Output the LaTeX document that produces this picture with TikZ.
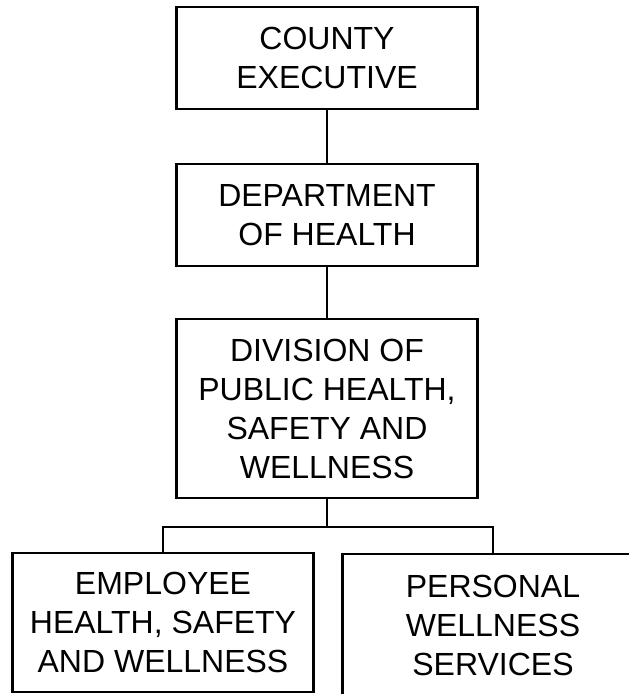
\documentclass[tikz,border=0pt]{standalone}
\usepackage{fontspec}
\setmainfont{Liberation Sans}
\tikzset{
  unit/.style={draw, line width=2.7pt, align=center, inner sep=0pt,
    minimum width=301pt, font=\fontsize{32}{39}\selectfont},
  link/.style={line width=2.7pt},
}

\begin{document}
\begin{tikzpicture}[x=1pt, y=-1pt]
\useasboundingbox (0,0) rectangle (629,694);
% boxes
\node[unit, minimum height=102pt] (exec) at (327,58) {COUNTY\\EXECUTIVE};
\node[unit, minimum height=102pt] (health) at (327,215) {DEPARTMENT\\OF HEALTH};
\node[unit, minimum height=179pt] (division) at (327,408.5) {DIVISION OF\\PUBLIC HEALTH,\\SAFETY AND\\WELLNESS};
\node[unit, minimum height=139pt] (employee) at (163,622.5) {EMPLOYEE\\HEALTH, SAFETY\\AND WELLNESS};
\node[unit, minimum height=142pt] (personal) at (493,625) {PERSONAL\\WELLNESS\\SERVICES};
% connectors
\coordinate (split) at (327,527);
\draw[link] (exec.south) -- (health.north);
\draw[link] (health.south) -- (division.north);
\draw[link] (division.south) -- (split);
\draw[link] (employee.north) |- (split) -| (personal.north);
\end{tikzpicture}
\end{document}
